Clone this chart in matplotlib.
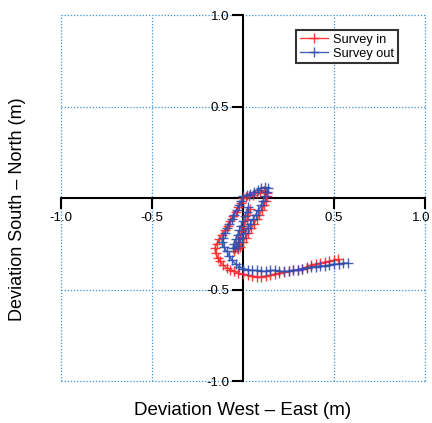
import numpy as np
import matplotlib
matplotlib.use("Agg")
import matplotlib.pyplot as plt
from matplotlib.transforms import ScaledTranslation

# =========================
# data (deviation in m)
# =========================
in_x = [0.04, 0.03, 0.02, 0.005, -0.005, -0.015, -0.025, -0.035, -0.05,
        -0.03, -0.015,
        0.0, 0.015, 0.03, 0.045, 0.06, 0.075, 0.09, 0.105, 0.115, 0.125, 0.13, 0.13,
        0.115, 0.095, 0.075, 0.055, 0.035, 0.015, 0.0,
        -0.01, -0.025, -0.04, -0.055, -0.07, -0.085, -0.10, -0.115, -0.13, -0.145, -0.155,
        -0.15, -0.14, -0.125, -0.11, -0.09, -0.07, -0.05, -0.025, 0.0, 0.025, 0.05, 0.075,
        0.10, 0.125,
        0.15, 0.175, 0.20, 0.225, 0.25, 0.275, 0.30, 0.325, 0.35, 0.375, 0.40, 0.425,
        0.45, 0.475, 0.50, 0.52]
in_y = [-0.06, -0.09, -0.12, -0.15, -0.18, -0.21, -0.24, -0.27, -0.29,
        -0.28, -0.265,
        -0.24, -0.215, -0.19, -0.165, -0.14, -0.115, -0.09, -0.065, -0.04, -0.015, 0.01, 0.03,
        0.04, 0.035, 0.03, 0.02, 0.01, 0.005, 0.0,
        -0.025, -0.05, -0.075, -0.10, -0.125, -0.15, -0.175, -0.20, -0.225, -0.25, -0.275,
        -0.30, -0.325, -0.345, -0.365, -0.38, -0.39, -0.40, -0.41, -0.415, -0.42, -0.425, -0.43,
        -0.43, -0.425,
        -0.42, -0.415, -0.41, -0.405, -0.40, -0.395, -0.39, -0.385, -0.375, -0.365, -0.36, -0.355,
        -0.35, -0.345, -0.34, -0.335]

out_x = [0.027, 0.02, 0.01, 0.0, -0.01, -0.02, -0.03, -0.04, -0.05, -0.055,
         -0.045, -0.03,
         -0.02, -0.005, 0.01, 0.025, 0.04, 0.055, 0.07, 0.085, 0.10, 0.11, 0.12, 0.13, 0.135,
         0.12, 0.10, 0.08, 0.06, 0.04, 0.02, 0.0,
         -0.01, -0.02, -0.035, -0.05, -0.06, -0.075, -0.09, -0.10, -0.11, -0.115,
         -0.105, -0.09, -0.075, -0.06, -0.04, -0.02, 0.0, 0.025, 0.05, 0.075, 0.10,
         0.125, 0.15, 0.175, 0.20, 0.225, 0.25, 0.275, 0.30, 0.325, 0.35, 0.375, 0.40,
         0.425, 0.45, 0.475, 0.50, 0.525, 0.55, 0.575]
out_y = [-0.05, -0.075, -0.10, -0.125, -0.15, -0.175, -0.20, -0.225, -0.25, -0.27,
         -0.275, -0.26,
         -0.24, -0.215, -0.19, -0.165, -0.14, -0.115, -0.09, -0.065, -0.04, -0.015, 0.01, 0.035, 0.055,
         0.06, 0.055, 0.045, 0.035, 0.025, 0.015, 0.01,
         -0.015, -0.04, -0.065, -0.09, -0.115, -0.14, -0.165, -0.19, -0.215, -0.24,
         -0.265, -0.29, -0.315, -0.34, -0.36, -0.375, -0.385, -0.39, -0.395, -0.395, -0.40,
         -0.40, -0.395, -0.395, -0.40, -0.40, -0.40, -0.395, -0.39, -0.385, -0.38, -0.375, -0.375,
         -0.37, -0.37, -0.365, -0.36, -0.36, -0.355, -0.355]

ticks = [-1.0, -0.5, 0.0, 0.5, 1.0]
tick_labels = ["-1.0", "-0.5", "", "0.5", "1.0"]

plt.rcParams["font.family"] = ["Liberation Sans", "DejaVu Sans"]

fig = plt.figure(figsize=(4.32, 4.23), dpi=100)
ax = fig.add_axes([0.141, 0.099, 0.843, 0.865])

# dotted grid incl. the outer box
grid_col = "#3d93d6"
for t in ticks:
    if t == 0.0:
        continue
    ax.axhline(t, color=grid_col, lw=0.9, ls=(0, (1, 1.5)), clip_on=False, zorder=0)
    ax.axvline(t, color=grid_col, lw=0.9, ls=(0, (1, 1.5)), clip_on=False, zorder=0)

ax.plot(in_x, in_y, color="#ff2a2a", lw=1.0, marker="+", ms=6.5, mew=1.0,
        alpha=0.9, label="Survey in", zorder=3)
ax.plot(out_x, out_y, color="#2f4fb0", lw=1.0, marker="+", ms=6.5, mew=1.0,
        alpha=0.9, label="Survey out", zorder=4)

ax.set_xlim(-1, 1)
ax.set_ylim(-1, 1)

for side in ["top", "right"]:
    ax.spines[side].set_visible(False)
for side in ["left", "bottom"]:
    ax.spines[side].set_position("zero")
    ax.spines[side].set_linewidth(1.5)
    ax.spines[side].set_zorder(2)

ax.set_xticks(ticks)
ax.set_xticklabels(tick_labels)
ax.set_yticks(ticks)
ax.set_yticklabels(tick_labels)
ax.tick_params(direction="out", length=8, width=1.5, labelsize=9.5, pad=2)

# keep the right-most label inside the figure
last = ax.get_xticklabels()[-1]
last.set_horizontalalignment("right")
last.set_transform(last.get_transform() + ScaledTranslation(5 / 100, 0, fig.dpi_scale_trans))

fig.text(0.5625, 0.03, "Deviation West \u2013 East (m)", ha="center", va="center", fontsize=13.5)
fig.text(0.04, 0.505, "Deviation South \u2013 North (m)", ha="center", va="center",
         rotation=90, fontsize=13)

leg = ax.legend(loc="upper right", bbox_to_anchor=(0.925, 0.96), fontsize=9.2,
                frameon=True, fancybox=False, handlelength=2.2, borderpad=0.3,
                labelspacing=0.15, handletextpad=0.4, borderaxespad=0)
leg.get_frame().set_edgecolor("black")
leg.get_frame().set_linewidth(1.5)

fig.savefig("out.png", dpi=100)
